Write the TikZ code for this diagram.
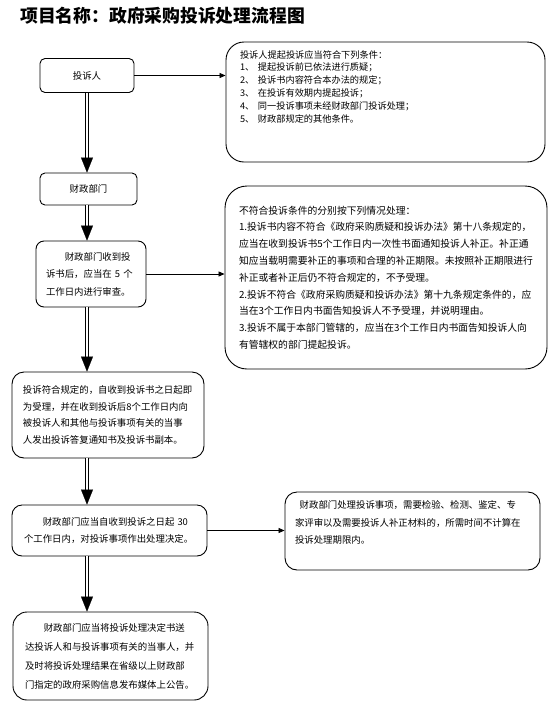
\documentclass[tikz,border=0pt]{standalone}
\usepackage{fontspec}
\setmainfont{Noto Sans CJK SC}
\usetikzlibrary{arrows.meta}

\begin{document}
\begin{tikzpicture}[x=1pt, y=-1pt, font=\fontsize{9.4}{16.5}\selectfont,
    flowbox/.style={draw, line width=0.9pt, rounded corners=#1, inner ysep=0pt, align=left},
    dblshaft/.style={double, double distance=2.4pt, line width=1pt, shorten >=10pt},
    dblhead/.style={draw=white, line width=0.1pt, -{Triangle[color=black, width=12pt, length=15pt]}},
    thinarrow/.style={line width=0.8pt, -{Triangle[width=5pt, length=6pt]}}]
  \useasboundingbox (0,0) rectangle (550,710);

  % title
  \node[font=\bfseries\fontsize{17.8}{20}\selectfont, anchor=west, inner sep=0pt] (title) at (20,16)
    {项目名称：政府采购投诉处理流程图};

  % left column
  \node[flowbox=5pt, align=center, minimum width=94pt, minimum height=34pt] (tsr) at (87,75.5) {投诉人};
  \node[flowbox=5pt, align=center, minimum width=97pt, minimum height=32pt] (czbm) at (88.5,189) {财政部门};
  \node[flowbox=8pt, inner xsep=10pt, text width=90pt, minimum height=66pt,
        font=\fontsize{9.4}{17.5}\selectfont] (shencha) at (91,274)
    {\hspace*{2em}财政部门收到投\\诉书后，应当在 5 个\\工作日内进行审查。};
  \node[flowbox=12pt, inner xsep=11pt, text width=170pt, minimum height=86pt,
        font=\fontsize{9.4}{16.4}\selectfont] (shouli) at (108,415)
    {投诉符合规定的，自收到投诉书之日起即\\为受理，并在收到投诉后8个工作日内向\\被投诉人和其他与投诉事项有关的当事\\人发出投诉答复通知书及投诉书副本。};
  \node[flowbox=10pt, inner xsep=12pt, text width=171pt, minimum height=51pt] (jueding) at (109.5,530.5)
    {\hspace*{2em}财政部门应当自收到投诉之日起 30\\个工作日内，对投诉事项作出处理决定。};
  \node[flowbox=14pt, inner xsep=12pt, text width=171pt, minimum height=88pt,
        font=\fontsize{9.4}{19}\selectfont] (gonggao) at (110.5,656)
    {\hspace*{2em}财政部门应当将投诉处理决定书送\\达投诉人和与投诉事项有关的当事人，并\\及时将投诉处理结果在省级以上财政部\\门指定的政府采购信息发布媒体上公告。};

  % right column
  \node[flowbox=18pt, inner xsep=14pt, text width=291pt, minimum height=120pt,
        font=\fontsize{9.2}{12.8}\selectfont] (tjian) at (385.5,102)
    {投诉人提起投诉应当符合下列条件：\\
     \makebox[18pt][l]{1、}提起投诉前已依法进行质疑；\\
     \makebox[18pt][l]{2、}投诉书内容符合本办法的规定；\\
     \makebox[18pt][l]{3、}在投诉有效期内提起投诉；\\
     \makebox[18pt][l]{4、}同一投诉事项未经财政部门投诉处理；\\
     \makebox[18pt][l]{5、}财政部规定的其他条件。\\
     \rule{0pt}{30pt}};
  \node[flowbox=22pt, inner xsep=14pt, text width=294pt, minimum height=183pt,
        font=\fontsize{9.8}{16.8}\selectfont] (chuli) at (386,277.5)
    {不符合投诉条件的分别按下列情况处理：\\
     1.投诉书内容不符合《政府采购质疑和投诉办法》第十八条规定的，\\
     应当在收到投诉书5个工作日内一次性书面通知投诉人补正。补正通\\
     知应当载明需要补正的事项和合理的补正期限。未按照补正期限进行\\
     补正或者补正后仍不符合规定的，不予受理。\\
     2.投诉不符合《政府采购质疑和投诉办法》第十九条规定条件的，应\\
     当在3个工作日内书面告知投诉人不予受理，并说明理由。\\
     3.投诉不属于本部门管辖的，应当在3个工作日内书面告知投诉人向\\
     有管辖权的部门提起投诉。};
  \node[flowbox=12pt, inner xsep=10pt, text width=235pt, minimum height=78pt,
        font=\fontsize{9.4}{17.5}\selectfont] (qixian) at (412.5,531)
    {\hspace*{0.5em}财政部门处理投诉事项，需要检验、检测、鉴定、专\\家评审以及需要投诉人补正材料的，所需时间不计算在\\投诉处理期限内。\\\mbox{}};

  % main flow
  \foreach \a/\b in {tsr/czbm, czbm/shencha, shencha/shouli, shouli/jueding, jueding/gonggao} {
    \draw[dblshaft] (\a.south -| tsr) -- (\b.north -| tsr);
    \draw[dblhead] (\a.south -| tsr) -- (\b.north -| tsr);
  }

  % side branches
  \draw[thinarrow] (tsr.east) -- (tsr.east -| tjian.west);
  \draw[thinarrow] (shencha.east) -- (shencha.east -| chuli.west);
  \draw[thinarrow] (jueding.east) -- (jueding.east -| qixian.west);
\end{tikzpicture}
\end{document}
